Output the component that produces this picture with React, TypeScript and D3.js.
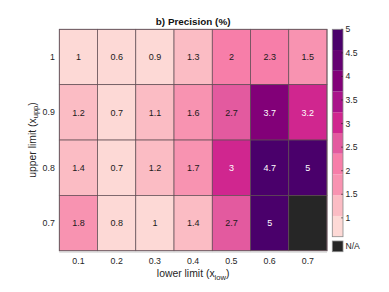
import React from "react";
import * as d3 from "d3";

const lowerLimits = ["0.1", "0.2", "0.3", "0.4", "0.5", "0.6", "0.7"];
const upperLimits = ["1", "0.9", "0.8", "0.7"];
const row1 = [1, 0.6, 0.9, 1.3, 2, 2.3, 1.5];
const row09 = [1.2, 0.7, 1.1, 1.6, 2.7, 3.7, 3.2];
const row08 = [1.4, 0.7, 1.2, 1.7, 3, 4.7, 5];
const row07 = [1.8, 0.8, 1, 1.4, 2.7, 5, NaN];
const rows = [row1, row09, row08, row07];
const cbTicks = [1, 1.5, 2, 2.5, 3, 3.5, 4, 4.5, 5];
const cMin = 0.6;
const cMax = 5;

const palette = [
  "#fdd9d6", "#fbbcc4", "#f893b1", "#f77ea9", "#e35a9f",
  "#d0268f", "#a9138a", "#820078", "#650072", "#4a006b",
];

const FONT = "Arial, 'Liberation Sans', Helvetica, sans-serif";

export default function App() {
  const W = 389, H = 292;
  const L = 59.3, R = 327, T = 29.3, B = 250.8;
  const x = d3.scaleBand<string>().domain(lowerLimits).range([L, R]);
  const y = d3.scaleBand<string>().domain(upperLimits).range([T, B]);
  const color = d3.scaleQuantize<string>().domain([cMin, cMax]).range(palette);
  const cbX = 332.3, cbW = 10.7, cbTop = 29.3, cbBot = 236.7;
  const cb = d3.scaleLinear().domain([cMin, cMax]).range([cbBot, cbTop]);
  const bandStep = (cMax - cMin) / palette.length;

  const cells: any[] = [];
  rows.forEach((r, i) =>
    r.forEach((v, j) => {
      cells.push({ row: upperLimits[i], col: lowerLimits[j], v, bin: Number.isNaN(v) ? -1 : palette.indexOf(color(v)) });
    })
  );

  return (
    <svg width={W} height={H} style={{ position: "absolute", left: 0, top: 0, background: "#fff" }} fontFamily={FONT}>
      <text x={(L + R) / 2} y={25.3} textAnchor="middle" fontSize={9.9} fontWeight="bold" fill="#111">
        b) Precision (%)
      </text>
      {cells.map((c, k) => (
        <rect key={k} x={x(c.col)} y={y(c.row)} width={x.bandwidth()} height={y.bandwidth()}
          fill={c.bin < 0 ? "#262626" : color(c.v)} stroke="#5e4a52" strokeWidth={0.7} />
      ))}
      {cells.filter((c) => c.bin >= 0).map((c, k) => (
        <text key={"t" + k} x={x(c.col)! + x.bandwidth() / 2} y={y(c.row)! + y.bandwidth() / 2 + 3.2}
          textAnchor="middle" fontSize={9} fill={c.bin >= 5 ? "#fff" : "#1a1a1a"}>
          {String(c.v)}
        </text>
      ))}
      <rect x={L} y={T} width={R - L} height={B - T} fill="none" stroke="#6e5a62" strokeWidth={0.8} />
      <line x1={L} x2={R} y1={B + 1.3} y2={B + 1.3} stroke="#d8d8d8" strokeWidth={1.4} />
      {upperLimits.map((u) => (
        <text key={u} x={L - 4.5} y={y(u)! + y.bandwidth() / 2 + 3.1} textAnchor="end" fontSize={8.8} fill="#262626">{u}</text>
      ))}
      {lowerLimits.map((l) => (
        <text key={l} x={x(l)! + x.bandwidth() / 2} y={264} textAnchor="middle" fontSize={8.8} fill="#262626">{l}</text>
      ))}
      <text x={(L + R) / 2} y={276.8} textAnchor="middle" fontSize={10.4} fill="#262626">
        lower limit (x<tspan fontSize={7.6} dy={3}>low</tspan><tspan dy={-3}>)</tspan>
      </text>
      <text transform={`translate(35.8,140) rotate(-90)`} textAnchor="middle" fontSize={10.4} fill="#262626">
        upper limit (x<tspan fontSize={7.6} dy={2.3}>upp</tspan><tspan dy={-2.3}>)</tspan>
      </text>
      {palette.map((p, i) => (
        <rect key={"cb" + i} x={cbX} y={cb(cMin + (i + 1) * bandStep)} width={cbW}
          height={cb(cMin + i * bandStep) - cb(cMin + (i + 1) * bandStep)} fill={p} />
      ))}
      <rect x={cbX} y={cbTop} width={cbW} height={cbBot - cbTop} fill="none" stroke="#8a8a8a" strokeWidth={0.8} />
      {cbTicks.map((t) => (
        <g key={"ct" + t}>
          <line x1={cbX + cbW - 2} x2={cbX + cbW} y1={cb(t)} y2={cb(t)} stroke="#262626" strokeWidth={0.6} />
          <text x={cbX + cbW + 2.5} y={cb(t) + 3} fontSize={8.6} fill="#262626">{String(t)}</text>
        </g>
      ))}
      <rect x={cbX} y={241} width={cbW} height={10.7} fill="#262626" stroke="#8a8a8a" strokeWidth={0.8} />
      <text x={cbX + cbW + 2.5} y={249.4} fontSize={8.6} fill="#262626">N/A</text>
    </svg>
  );
}
